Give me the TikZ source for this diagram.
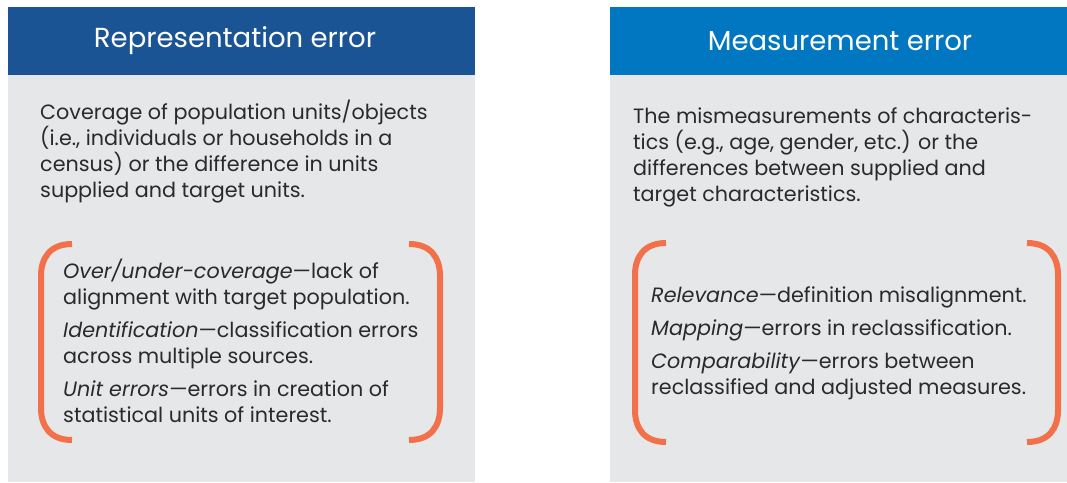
\documentclass[tikz,border=0pt]{standalone}
\usepackage{fontspec}
\setmainfont{Poppins}
\usetikzlibrary{positioning}

\definecolor{repblue}{HTML}{1B5494}
\definecolor{measblue}{HTML}{0077C0}
\definecolor{panelgray}{HTML}{E6E7E8}
\definecolor{braceorange}{HTML}{F2704A}
\definecolor{bodytext}{HTML}{2A2A2A}

\begin{document}
\begin{tikzpicture}[x=1pt,y=-1pt,
  head/.style={text=white,font=\fontsize{27.5}{32}\selectfont,inner sep=0pt},
  body/.style={text=bodytext,font=\fontsize{20.7}{25.7}\selectfont,align=left,anchor=base west,inner sep=0pt},
  brace/.style={braceorange,line width=6pt}]
\useasboundingbox (0,0) rectangle (1067,482);

% the two panels
\fill[panelgray] (8,75) rectangle (475,482);
\fill[repblue] (8,7) rectangle (475,75);
\fill[panelgray] (610,75) rectangle (1067,482);
\fill[measblue] (610,7) rectangle (1067,75);

\node[head] (rephead) at (235,41) {Representation error};
\node[head] (meashead) at (840,41) {Measurement error};

% left panel (base = last line)
\node[body] (repdef) at (40,197) {Coverage of population units/objects\\
  (i.e., individuals or households in a\\
  census) or the difference in units\\
  supplied and target units.};
\node[body] (overcov) at (63,304) {\textit{Over/under-coverage}—lack of\\
  alignment with target population.};
\node[body] (ident) at (63,363) {\textit{Identification}—classification errors\\
  across multiple sources.};
\node[body] (uniterr) at (63,422) {\textit{Unit errors}—errors in creation of\\
  statistical units of interest.};

% right panel
\node[body] (measdef) at (633,201) {The mismeasurements of characteris-\\
  tics (e.g., age, gender, etc.) or the\\
  differences between supplied and\\
  target characteristics.};
\node[body] (relev) at (651,302) {\textit{Relevance}—definition misalignment.};
\node[body] (mapping) at (651,335) {\textit{Mapping}—errors in reclassification.};
\node[body] (compar) at (651,394) {\textit{Comparability}—errors between\\
  reclassified and adjusted measures.};

% round brackets around the lists
\foreach \xl/\xr/\yt/\yb in {41/440/244/440, 635/1058/243/442} {
  \draw[brace] (\xl+31,\yt) .. controls (\xl+9,\yt) and (\xl,\yt+14) .. (\xl,\yt+32)
    -- (\xl,\yb-32) .. controls (\xl,\yb-14) and (\xl+9,\yb) .. (\xl+31,\yb);
  \draw[brace] (\xr-31,\yt) .. controls (\xr-9,\yt) and (\xr,\yt+14) .. (\xr,\yt+32)
    -- (\xr,\yb-32) .. controls (\xr,\yb-14) and (\xr-9,\yb) .. (\xr-31,\yb);
}
\end{tikzpicture}
\end{document}
